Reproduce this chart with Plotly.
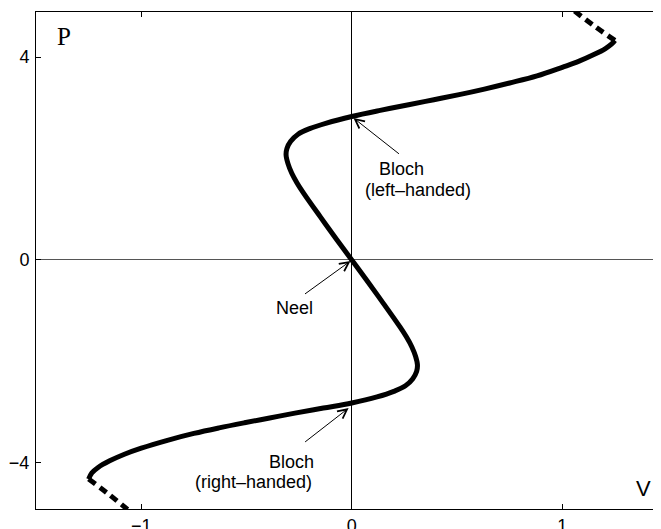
import plotly.graph_objects as go

# Solid branch (V, P), bottom tip to top tip
V_solid = [-1.250, -1.235, -1.205, -1.150, -1.080, -1.000, -0.880, -0.750, -0.630, -0.510,
           -0.390, -0.270, -0.135, 0.000, 0.120, 0.200, 0.255, 0.290, 0.308, 0.312,
           0.303, 0.285, 0.260, 0.229, 0.150, 0.071, 0.000,
           -0.071, -0.150, -0.229, -0.260, -0.285, -0.303, -0.312, -0.308, -0.290,
           -0.255, -0.200, -0.120, 0.000, 0.135, 0.270, 0.390, 0.510, 0.630, 0.750,
           0.880, 1.000, 1.080, 1.150, 1.205, 1.235, 1.250]
P_solid = [-4.32, -4.20, -4.09, -3.96, -3.83, -3.71, -3.56, -3.42, -3.31, -3.21,
           -3.115, -3.02, -2.92, -2.82, -2.70, -2.59, -2.48, -2.34, -2.20, -2.07,
           -1.90, -1.71, -1.52, -1.32, -0.855, -0.40, 0.00,
           0.40, 0.855, 1.32, 1.52, 1.71, 1.90, 2.07, 2.20, 2.34,
           2.48, 2.59, 2.70, 2.83, 2.95, 3.06, 3.16, 3.26, 3.37, 3.49,
           3.63, 3.80, 3.92, 4.05, 4.17, 4.26, 4.33]

# Dashed continuations
V_dash_low = [-1.25, -1.16, -1.065]
P_dash_low = [-4.32, -4.60, -4.92]
V_dash_high = [1.25, 1.15, 1.055]
P_dash_high = [4.33, 4.62, 4.92]

x_ticks = [-1, 0, 1]
y_ticks = [-4, 0, 4]

fig = go.Figure()
fig.add_trace(go.Scatter(x=V_solid, y=P_solid, mode="lines",
                         line=dict(color="black", width=5, shape="spline", smoothing=1.0),
                         showlegend=False, hoverinfo="skip"))
for vx, py in [(V_dash_low, P_dash_low), (V_dash_high, P_dash_high)]:
    fig.add_trace(go.Scatter(x=vx, y=py, mode="lines",
                             line=dict(color="black", width=5, dash="8px,6px", shape="spline"),
                             showlegend=False, hoverinfo="skip"))

font_sans = "Liberation Sans, Arial, sans-serif"

arrows = [
    dict(x=0.008, y=2.80, ax=47, ay=37),
    dict(x=-0.006, y=-0.02, ax=-47, ay=34),
    dict(x=-0.015, y=-2.92, ax=-45, ay=35),
]
for a in arrows:
    fig.add_annotation(x=a["x"], y=a["y"], ax=a["ax"], ay=a["ay"], xref="x", yref="y",
                       text="", showarrow=True, arrowhead=5, arrowsize=1.8,
                       arrowwidth=1, arrowcolor="black", standoff=0)

labels = [
    ("Bloch", 0.234, 1.80, 18),
    ("(left\u2013handed)", 0.315, 1.39, 18),
    ("Neel", -0.274, -0.94, 18),
    ("Bloch", -0.286, -3.99, 18),
    ("(right\u2013handed)", -0.466, -4.38, 18),
    ("V", 1.384, -4.50, 22),
]
for t, x, y, s in labels:
    fig.add_annotation(x=x, y=y, xref="x", yref="y", text=t, showarrow=False,
                       font=dict(family=font_sans, size=s, color="black"))
fig.add_annotation(x=-1.367, y=4.40, xref="x", yref="y", text="P", showarrow=False,
                   font=dict(family="Liberation Serif, Times New Roman, serif", size=25, color="black"))

fig.update_xaxes(range=[-1.5, 1.469], tickvals=x_ticks, ticks="inside", ticklen=5,
                 tickcolor="black", showline=True, linecolor="black", linewidth=1,
                 mirror="ticks", showgrid=False, zeroline=True, zerolinecolor="black",
                 zerolinewidth=1, tickfont=dict(family=font_sans, size=18, color="black"),
                 ticklabelstandoff=0, automargin=False)
fig.update_yaxes(range=[-4.91, 4.89], tickvals=y_ticks, ticks="inside", ticklen=5,
                 tickcolor="black", showline=True, linecolor="black", linewidth=1,
                 mirror=False, showgrid=False, zeroline=True, zerolinecolor="#555555",
                 zerolinewidth=1, tickfont=dict(family=font_sans, size=18, color="black"),
                 ticklabelstandoff=2, automargin=False)
# The page body has an 8px margin; compensate so the plot area lands where the reference has it
fig.update_layout(width=653, height=521, margin=dict(l=28, r=0, t=4, b=20),
                  plot_bgcolor="white", paper_bgcolor="white")

fig.write_html("out.html")
